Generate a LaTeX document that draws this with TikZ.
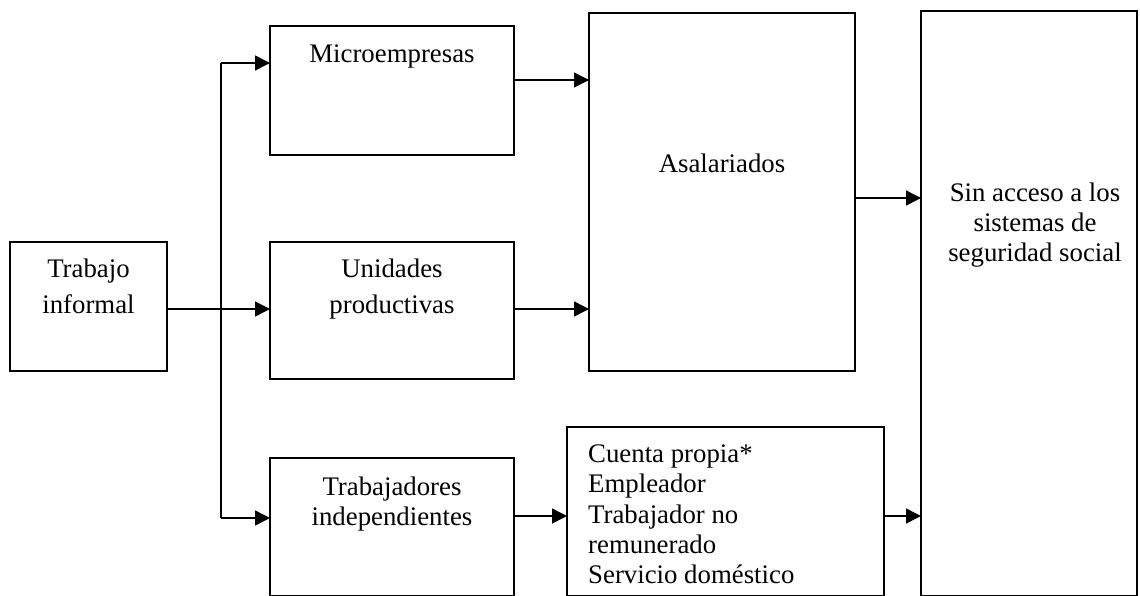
\documentclass[tikz,border=0pt]{standalone}
\usepackage{fontspec}
\setmainfont{Liberation Serif}
\usetikzlibrary{arrows.meta}
\begin{document}
\begin{tikzpicture}[x=1pt,y=-1pt,
  box/.style={draw=black, line width=1.5pt, rectangle, inner sep=0pt, outer sep=0pt},
  txt/.style={anchor=base, inner sep=0pt, font=\fontsize{26.8pt}{30pt}\selectfont},
  txtl/.style={anchor=base west, inner sep=0pt, font=\fontsize{26.8pt}{30pt}\selectfont},
  arr/.style={draw=black, line width=1.5pt, -{Triangle[length=15pt,width=15pt]}},
  conn/.style={draw=black, line width=1.5pt}]
\useasboundingbox (0,0) rectangle (1140,595);

% boxes
\node[box, minimum width=157pt, minimum height=129pt] (ti) at (88.5,306.5) {};
\node[box, minimum width=244pt, minimum height=129pt] (micro) at (392,90.5) {};
\node[box, minimum width=244pt, minimum height=137pt] (uni) at (392,310.5) {};
\node[box, minimum width=244pt, minimum height=138pt] (trab) at (392,527) {};
\node[box, minimum width=266pt, minimum height=358pt] (asal) at (722,192) {};
\node[box, minimum width=317pt, minimum height=169pt] (cuenta) at (725.5,511.5) {};
\node[box, minimum width=216pt, minimum height=585pt] (sin) at (1029,303.5) {};

% texts
\node[txt] (ti1) at (88.5,277) {Trabajo};
\node[txt] (ti2) at (88.5,313) {informal};
\node[txt] (micro1) at (392,62) {Microempresas};
\node[txt] (uni1) at (392,277) {Unidades};
\node[txt] (uni2) at (392,313) {productivas};
\node[txt] (trab1) at (392,495) {Trabajadores};
\node[txt] (trab2) at (392,525) {independientes};
\node[txt] (asal1) at (722,172) {Asalariados};
\node[txt] (sin1) at (1035,201) {Sin acceso a los};
\node[txt] (sin2) at (1035,231) {sistemas de};
\node[txt] (sin3) at (1035,261) {seguridad social};
\node[txtl] (c1) at (588,462) {Cuenta propia*};
\node[txtl] (c2) at (588,492) {Empleador};
\node[txtl] (c3) at (588,523) {Trabajador no};
\node[txtl] (c4) at (588,553) {remunerado};
\node[txtl] (c5) at (588,583) {Servicio doméstico};

% connectors
\coordinate (jtop) at (221,63);
\coordinate (jbot) at (221,518);
\draw[arr] (ti.east |- 0,309) -- (uni.west |- 0,309);
\draw[conn] (jtop) -- (jbot);
\draw[arr] (jtop) -- (micro.west |- jtop);
\draw[arr] (jbot) -- (trab.west |- jbot);
\draw[arr] (micro.east |- 0,80) -- (asal.west |- 0,80);
\draw[arr] (uni.east |- 0,309) -- (asal.west |- 0,309);
\draw[arr] (asal.east |- 0,198) -- (sin.west |- 0,198);
\draw[arr] (trab.east |- 0,516) -- (cuenta.west |- 0,516);
\draw[arr] (cuenta.east |- 0,516) -- (sin.west |- 0,516);
\end{tikzpicture}
\end{document}
